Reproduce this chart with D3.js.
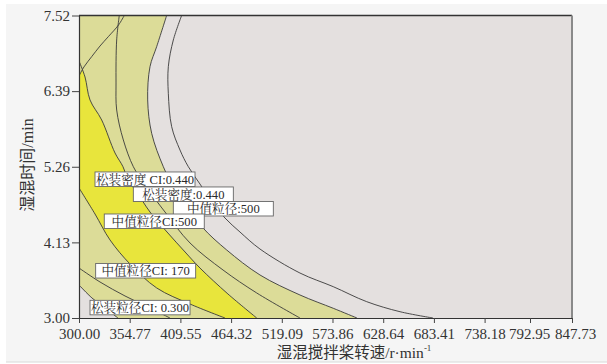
<!DOCTYPE html>
<html><head><meta charset="utf-8">
<script src="https://cdn.jsdelivr.net/npm/d3@7"></script>
<style>body{margin:0;background:#fff;} svg{display:block}</style>
</head><body>
<svg id="chart" width="607" height="364"></svg>
<script>
// ---- axis ticks and titles ----
const xTickValues = [300.00, 354.77, 409.55, 464.32, 519.09, 573.86, 628.64, 683.41, 738.18, 792.95, 847.73];
const yTickValues = [3.00, 4.13, 5.26, 6.39, 7.52];
const xTitleMain = "湿混搅拌桨转速/r·min";
const xTitleSup = "-1";
const yTitle = "湿混时间/min";

// ---- contour lines: [转速 r/min, 时间 min] ----
const upperBoundLine = [[348.9,7.52],[342.7,7.378],[331.7,7.204],[322.7,7.064],[313.7,6.905],[305.4,6.752],[300,6.616]];
const medianSizeCI500 = [[300,6.840],[306.5,6.601],[311.9,6.258],[324.5,5.959],[338.9,5.466],[347.5,5.261],[352.9,5.062],[362.3,4.883],[376.7,4.584],[395.1,4.285],[414.6,3.986],[430.7,3.747],[460.9,3.359],[492.0,3.0]];
const medianSizeCI170 = [[300,4.943],[317.3,4.554],[333.5,4.166],[355.1,3.807],[383.9,3.449],[419.9,3.209],[457.7,3.0]];
const bulkDensityCI440 = [[343.5,7.52],[340.7,7.154],[340.0,6.512],[340.7,6.108],[347.9,5.660],[358.7,5.261],[371.3,4.987],[392.9,4.584],[419.9,4.121],[455.6,3.717],[492.0,3.374],[538.7,3.0]];
const bulkDensity440 = [[394.7,7.52],[383.9,7.054],[376.7,6.755],[374.2,6.258],[378.5,5.760],[391.1,5.261],[403.7,4.913],[419.9,4.614],[434.0,4.345],[459.6,4.016],[495.5,3.643],[538.7,3.344],[574.7,3.145],[600.3,3.0]];
const medianSize500 = [[410.9,7.52],[401.9,7.154],[396.5,6.755],[396.5,6.358],[400.1,5.859],[409.1,5.510],[418.1,5.261],[430.7,5.002],[443.7,4.733],[457.7,4.494],[473.9,4.285],[495.5,4.031],[538.7,3.672],[574.7,3.468],[610.8,3.244],[646.8,3.094],[682.4,3.0]];
const looseSizeLine = [[300,3.747],[322.7,3.538],[349.7,3.329],[376.7,3.149],[398.3,3.0]];
const looseSizeCI300 = [[300,3.493],[314.0,3.299],[328.1,3.149],[342.1,3.0]];

// ---- contour labels: text and anchor (top-left, data units) ----
const labelTexts = ["松装密度 CI:0.440", "松装密度:0.440", "中值粒径:500", "中值粒径CI:500", "中值粒径CI: 170", "松装粒径CI: 0.300"];
const labelAnchors = [[317.3,5.182],[358.7,4.958],[401.9,4.741],[327.3,4.554],[318.0,3.814],[311.9,3.264]];

const svg = d3.select("#chart");
svg.append("rect").attr("width",607).attr("height",364).attr("fill","#ffffff");
svg.append("rect").attr("x",6).attr("y",4).attr("width",601).attr("height",358).attr("fill","#f5f5f5");
svg.append("line").attr("x1",6).attr("x2",607).attr("y1",362).attr("y2",362).attr("stroke","#d8d8d8");

const x = d3.scaleLinear().domain([300, 738.18, 792.95, 847.73]).range([79, 484.6, 530, 572]);
const y = d3.scaleLinear().domain([3.00, 7.52]).range([318, 15.5]);
const X0 = x(300), X1 = x(847.73), Y0 = y(3.00), Y1 = y(7.52);

const line = d3.line().x(d => x(d[0])).y(d => y(d[1])).curve(d3.curveCatmullRom.alpha(0.5));

const GRAY = "#e4e0df", KHAKI = "#dcdc98", YELLOW = "#e8e53c";

const defs = svg.append("defs");
defs.append("clipPath").attr("id","plotClip").append("rect")
  .attr("x",X0).attr("y",Y1).attr("width",X1-X0).attr("height",Y0-Y1);
defs.append("clipPath").attr("id","leftOfQ").append("path")
  .attr("d", line(medianSizeCI500) + `L${X0},${Y0}Z`);
defs.append("clipPath").attr("id","belowP").append("path")
  .attr("d", line(upperBoundLine) + `L${X0},${Y0}L${X1},${Y0}L${X1},${Y1}Z`);

const plot = svg.append("g").attr("clip-path","url(#plotClip)");
plot.append("rect").attr("x",X0).attr("y",Y1).attr("width",X1-X0).attr("height",Y0-Y1).attr("fill",GRAY);
plot.append("path").attr("d", line(bulkDensity440) + `L${X0},${Y0}L${X0},${Y1}Z`).attr("fill",KHAKI);
plot.append("path").attr("d", line(looseSizeCI300) + `L${X0},${Y0}Z`).attr("fill",GRAY);
plot.append("g").attr("clip-path","url(#leftOfQ)")
  .append("g").attr("clip-path","url(#belowP)")
  .append("path").attr("d", line(medianSizeCI170) + `L${X1},${Y0}L${X1},${Y1}L${X0},${Y1}Z`).attr("fill",YELLOW);

const curves = [upperBoundLine, medianSizeCI500, medianSizeCI170, bulkDensityCI440, bulkDensity440, medianSize500, looseSizeLine, looseSizeCI300];
plot.selectAll("path.contour").data(curves).enter().append("path")
  .attr("class","contour").attr("d", d => line(d))
  .attr("fill","none").attr("stroke","#3a3a3a").attr("stroke-width",0.9);

// labels
const lab = svg.append("g").selectAll("g").data(labelTexts).enter().append("g")
  .attr("transform",(d,i) => `translate(${x(labelAnchors[i][0])},${y(labelAnchors[i][1])})`);
lab.append("rect").attr("width",100).attr("height",14.5).attr("fill","#ffffff")
  .attr("stroke","#666").attr("stroke-width",0.9);
lab.append("text").attr("x",50).attr("y",7.6).attr("text-anchor","middle")
  .attr("dominant-baseline","central")
  .attr("font-family","'Liberation Serif','Noto Serif CJK SC','Noto Sans CJK SC',serif")
  .attr("font-size",12.6).attr("fill","#2a2a2a").text(d => d);

// axes
const axisFont = "'Liberation Serif','Times New Roman',serif";
const gx = svg.append("g").attr("transform",`translate(0,${Y0})`)
  .call(d3.axisBottom(x).tickValues(xTickValues).tickFormat(d3.format(".2f")).tickSize(5).tickSizeOuter(0).tickPadding(5));
const gy = svg.append("g").attr("transform",`translate(${X0},0)`)
  .call(d3.axisLeft(y).tickValues(yTickValues).tickFormat(d3.format(".2f")).tickSize(7).tickSizeOuter(0).tickPadding(2));
[gx, gy].forEach(g => {
  g.select(".domain").attr("stroke","#333").attr("stroke-width",1.2);
  g.selectAll(".tick line").attr("stroke","#444");
  g.selectAll(".tick text").attr("font-family",axisFont).attr("font-size",15).attr("fill","#333");
});
gx.selectAll(".tick text").filter(d => d === 847.73).attr("dx", 3);
gx.selectAll(".tick text").filter(d => d === 792.95).attr("dx", -1);

// top and right frame
svg.append("line").attr("x1",X0).attr("x2",X1).attr("y1",Y1).attr("y2",Y1).attr("stroke","#333").attr("stroke-width",1.4);
svg.append("line").attr("x1",X1).attr("x2",X1).attr("y1",Y1).attr("y2",Y0).attr("stroke","#8a8a8a").attr("stroke-width",2);

// titles
const xt = svg.append("text").attr("x",(276+432)/2).attr("y",358).attr("text-anchor","middle")
  .attr("font-family","'Liberation Serif','Noto Sans CJK SC',serif").attr("font-size",15.5).attr("fill","#333");
xt.append("tspan").text(xTitleMain);
xt.append("tspan").attr("font-size",9).attr("dy",-7).text(xTitleSup);

svg.append("text").attr("transform",`translate(33,165) rotate(-90)`).attr("text-anchor","middle")
  .attr("font-family","'Liberation Serif','Noto Sans CJK SC',serif").attr("font-size",16).attr("fill","#333")
  .text(yTitle);
</script>
</body></html>
